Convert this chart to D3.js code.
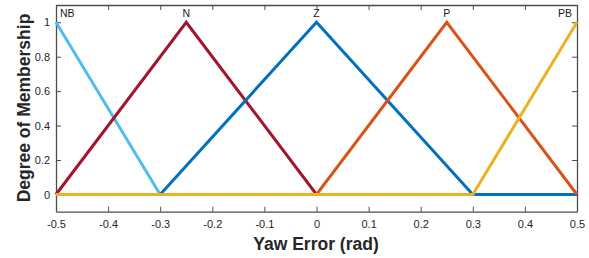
<!DOCTYPE html>
<meta charset="utf-8">
<style>
body { margin: 0; background: #fff; }
text { font-family: "Liberation Sans", Arial, sans-serif; }
.tick text { font-size: 11px; fill: #262626; }
.tick line, .domain { stroke: #4d4d4d; }
</style>
<svg width="589" height="258"></svg>
<script src="https://d3js.org/d3.v7.min.js"></script>
<script>

var names = ["NB", "N", "Z", "P", "PB"];
var colors = ["#4DBEEE", "#A2142F", "#0072BD", "#D95319", "#EDB120"];
var xTicks = [-0.5, -0.4, -0.3, -0.2, -0.1, 0, 0.1, 0.2, 0.3, 0.4, 0.5];
var yTicks = [0, 0.2, 0.4, 0.6, 0.8, 1];

var nbX = [-0.5, -0.3, 0.5], nbY = [1, 0, 0];
var nX = [-0.5, -0.25, 0, 0.5], nY = [0, 1, 0, 0];
var zX = [-0.5, -0.3, 0, 0.3, 0.5], zY = [0, 0, 1, 0, 0];
var pX = [-0.5, 0, 0.25, 0.5], pY = [0, 0, 1, 0];
var pbX = [-0.5, 0.3, 0.5], pbY = [0, 0, 1];

var series = [[nbX, nbY], [nX, nY], [zX, zY], [pX, pY], [pbX, pbY]];
var peaks = [-0.5, -0.25, 0, 0.25, 0.5];

var svg = d3.select("svg"),
    mLeft = 56, mRight = 577, mTop = 5, mBottom = 211.7;

var x = d3.scaleLinear().domain([-0.5, 0.5]).range([mLeft, mRight]);
var y = d3.scaleLinear().domain([-0.1, 1.1]).range([mBottom, mTop]);

function fmt(d) { return String(+d.toFixed(1)); }

svg.append("g")
    .attr("transform", "translate(0," + mBottom + ")")
    .call(d3.axisBottom(x).tickValues(xTicks).tickSizeInner(-5).tickSizeOuter(0).tickPadding(9).tickFormat(fmt));
svg.append("g")
    .attr("transform", "translate(0," + mTop + ")")
    .call(d3.axisTop(x).tickValues(xTicks).tickSizeInner(-5).tickSizeOuter(0).tickFormat(""));
svg.append("g")
    .attr("transform", "translate(" + mLeft + ",0)")
    .call(d3.axisLeft(y).tickValues(yTicks).tickSizeInner(-5).tickSizeOuter(0).tickPadding(6).tickFormat(fmt));
svg.append("g")
    .attr("transform", "translate(" + mRight + ",0)")
    .call(d3.axisRight(y).tickValues(yTicks).tickSizeInner(-5).tickSizeOuter(0).tickFormat(""));

svg.selectAll(".domain").attr("stroke-width", 1.3);

var line = d3.line()
    .x(function(d) { return x(d[0]); })
    .y(function(d) { return y(d[1]); });

series.forEach(function(s, i) {
  svg.append("path")
      .datum(d3.zip(s[0], s[1]))
      .attr("fill", "none")
      .attr("stroke", colors[i])
      .attr("stroke-width", 3)
      .attr("d", line);
});

svg.selectAll(".mf-label")
    .data(names)
  .enter().append("text")
    .attr("class", "mf-label")
    .attr("x", function(d, i) { return i === 0 ? x(peaks[i]) + 4 : i === 4 ? x(peaks[i]) - 5 : x(peaks[i]); })
    .attr("y", 17)
    .attr("text-anchor", function(d, i) { return i === 0 ? "start" : i === 4 ? "end" : "middle"; })
    .attr("font-size", 10.5)
    .attr("fill", "#1a1a1a")
    .text(function(d) { return d; });

svg.append("text")
    .attr("x", 316)
    .attr("y", 250)
    .attr("text-anchor", "middle")
    .attr("font-size", 17.5)
    .attr("font-weight", "bold")
    .attr("fill", "#262626")
    .text("Yaw Error (rad)");

svg.append("text")
    .attr("transform", "translate(30,108) rotate(-90)")
    .attr("text-anchor", "middle")
    .attr("font-size", 17.5)
    .attr("font-weight", "bold")
    .attr("fill", "#262626")
    .text("Degree of Membership");

</script>
